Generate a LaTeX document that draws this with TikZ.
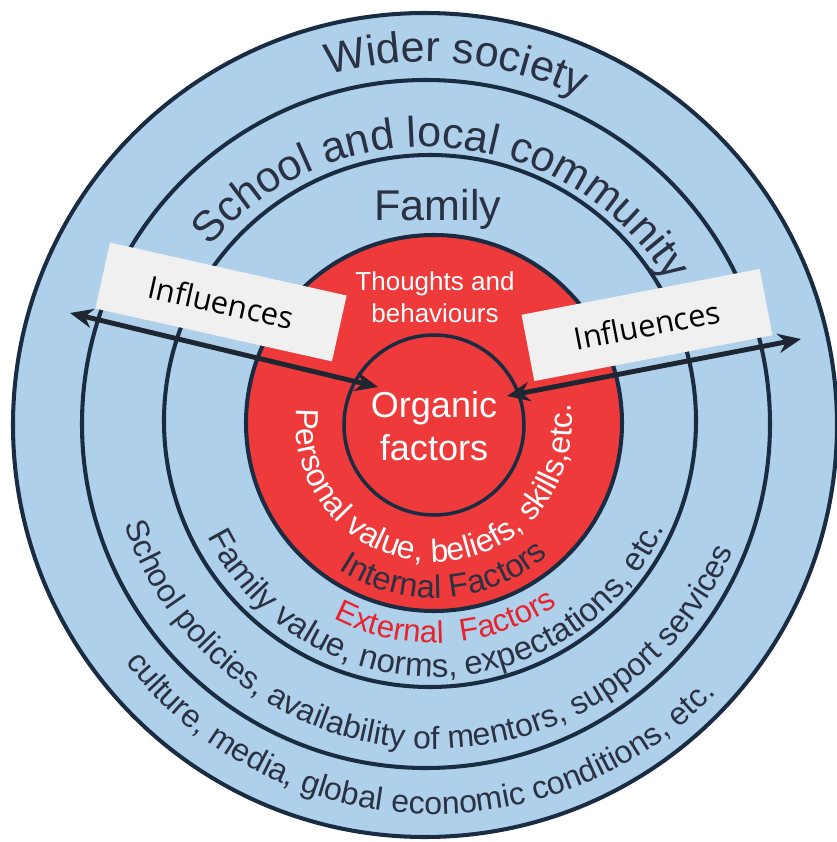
\documentclass[tikz,border=0pt]{standalone}
\usepackage{fontspec}
\setmainfont{Liberation Sans}
\newfontfamily\boxfont{Open Sans}
\usetikzlibrary{arrows.meta, decorations.text}

\definecolor{ringblue}{RGB}{175,208,235}
\definecolor{corered}{RGB}{238,58,59}
\definecolor{ringline}{RGB}{26,44,66}
\definecolor{ringtext}{RGB}{42,49,66}
\definecolor{boxgrey}{RGB}{240,240,240}
\definecolor{outred}{RGB}{232,35,43}

\newcommand{\ringfont}{\fontsize{18.2}{21}\selectfont}
\newcommand{\bigringfont}{\fontsize{24.5}{28}\selectfont}

\begin{document}
\begin{tikzpicture}[x=0.02cm, y=0.02cm]
       \tikzstyle{ring} = [draw=ringline, line width=2.3pt]
       \tikzstyle{arctext} = [decorate, decoration={text along path, text align=center}]
       \tikzstyle{arrow} = [line width=2.8pt, draw={rgb,255:red,30;green,38;blue,50}, <->, >={Stealth[length=13pt,width=11pt]}]
       \tikzstyle{influence} = [fill=boxgrey, minimum width=4.85cm, minimum height=1.35cm, inner sep=0pt, font=\boxfont\fontsize{17.6}{20}\selectfont, text=black]
       \tikzstyle{corelabel} = [align=center, text=white, inner sep=0pt]

       \useasboundingbox (-430,-418) rectangle (406,424);
       \fill[white] (-430,-418) rectangle (406,424);

       \coordinate (outer-c) at (-5,-1);
       \coordinate (school-c) at (-4,0);
       \coordinate (family-c) at (0,3);
       \coordinate (red-c) at (4,1);
       \coordinate (core-c) at (4,-1);
       \coordinate (text-c) at (4,0);
       \coordinate (school-t) at (-4,-8);

       \draw[ring, fill=ringblue] (outer-c) circle[radius=412];
       \draw[ring, fill=ringblue] (school-c) circle[radius=344];
       \draw[ring, fill=ringblue] (family-c) circle[radius=266];
       \draw[ring, fill=corered] (red-c) circle[radius=188];
       \draw[ring, line width=2pt, fill=corered] (core-c) circle[radius=90];

       \path[arctext, decoration={text color=ringtext, text={|\bigringfont|Wider society}}]
         (outer-c) ++(160:363) arc[start angle=160, end angle=10, radius=363];
       \path[arctext, decoration={text color=ringtext, text={|\bigringfont|School and local community}}]
         (school-t) ++(175:285) arc[start angle=175, end angle=-4, radius=285];
       \node (family) [anchor=base, text=ringtext, font=\bigringfont] at (8,203) {Family};

       \path[arctext, decoration={text color=white, text={|\ringfont|Personal value, beliefs, skills,etc.}}]
         (text-c) ++(161:138) arc[start angle=161, end angle=381, radius=138];
       \path[arctext, decoration={text color=ringtext, text={|\fontsize{18.5}{21}\selectfont|Internal Factors}}]
         (text-c) ++(214:174) arc[start angle=214, end angle=334, radius=174];
       \path[arctext, decoration={text color=outred, text={|\fontsize{17.8}{20}\selectfont|External{\hspace{0.55em}}Factors}}]
         (text-c) ++(223:219) arc[start angle=223, end angle=324, radius=219];
       \path[arctext, decoration={text color=ringtext, text={|\fontsize{18.8}{21}\selectfont|Family value, norms, expectations, etc.}}]
         (text-c) ++(191:253) arc[start angle=191, end angle=351, radius=253];
       \path[arctext, decoration={text color=ringtext, text={|\ringfont|School policies, availability of mentors, support services}}]
         (text-c) ++(182:325) arc[start angle=182, end angle=353, radius=325];
       \path[arctext, decoration={text color=ringtext, text={|\ringfont|culture, media, global economic conditions, etc.}}]
         (text-c) ++(197:390) arc[start angle=197, end angle=337, radius=390];

       \node (thoughts) [corelabel, font=\fontsize{14.8}{18.2}\selectfont] at (5,127) {Thoughts and\\behaviours};
       \node (organic) [corelabel, font=\fontsize{20.5}{24.5}\selectfont] at (4,-2) {Organic\\factors};

       \coordinate (left-end) at (-360,111);
       \coordinate (left-tip) at (-52,37);
       \coordinate (right-tip) at (77,28);
       \coordinate (right-end) at (371,85);
       \draw [arrow] (left-end) -- (left-tip);
       \draw [arrow] (right-tip) -- (right-end);

       \node (infl-left) [influence, rotate=-12.6] at (-209,122) {Influences};
       \node (infl-right) [influence, rotate=10.9] at (217,99) {Influences};

\end{tikzpicture}
\end{document}
